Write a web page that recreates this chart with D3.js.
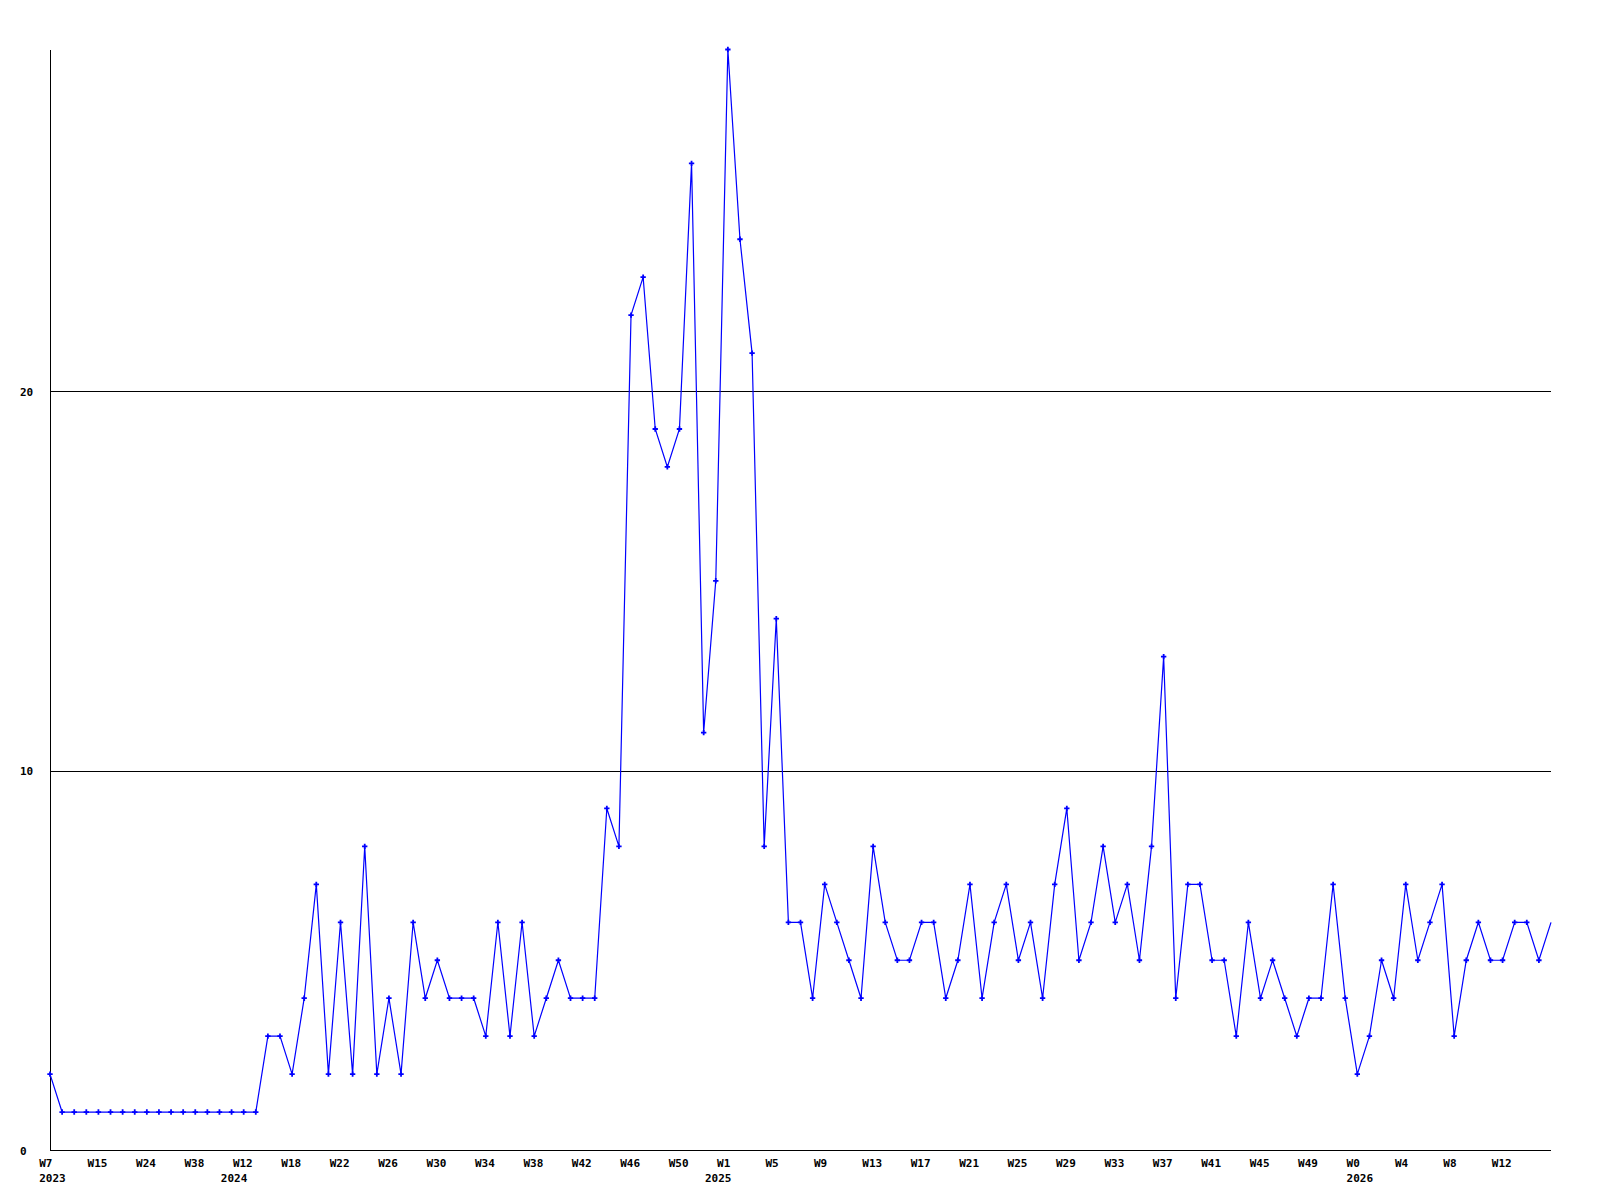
<!DOCTYPE html>
<html>
<head>
<meta charset="utf-8">
<script src="https://cdn.jsdelivr.net/npm/d3@7"></script>
<style>
body { margin: 0; background: #fff; }
text { font-family: "DejaVu Sans Mono", "Liberation Mono", monospace; font-size: 11px; font-weight: bold; fill: #000; }
</style>
</head>
<body>
<svg></svg>
<script>
var width = 1600, height = 1200;

// weekly counts, one per point
var values = [2, 1, 1, 1, 1, 1, 1, 1, 1, 1, 1, 1, 1, 1, 1, 1, 1, 1, 3, 3,
	2, 4, 7, 2, 6, 2, 8, 2, 4, 2, 6, 4, 5, 4, 4, 4, 3, 6, 3, 6,
	3, 4, 5, 4, 4, 4, 9, 8, 22, 23, 19, 18, 19, 26, 11, 15, 29, 24, 21, 8,
	14, 6, 6, 4, 7, 6, 5, 4, 8, 6, 5, 5, 6, 6, 4, 5, 7, 4, 6, 7,
	5, 6, 4, 7, 9, 5, 6, 8, 6, 7, 5, 8, 13, 4, 7, 7, 5, 5, 3, 6,
	4, 5, 4, 3, 4, 4, 7, 4, 2, 3, 5, 4, 7, 5, 6, 7, 3, 5, 6, 5,
	5, 6, 6, 5, 6];

// one week label on every 4th point
var weekLabels = ["W7", "W15", "W24", "W38", "W12", "W18", "W22", "W26", "W30", "W34",
	"W38", "W42", "W46", "W50", "W1", "W5", "W9", "W13", "W17", "W21",
	"W25", "W29", "W33", "W37", "W41", "W45", "W49", "W0", "W4", "W8", "W12"];
var labelEvery = 4;

var yearLabels = ["2023", "2024", "2025", "2026"];
var yearPoint = [0, 15, 55, 108];   // point where each year starts

var yTicks = [0, 10, 20];
var gridValues = [10, 20];

var svg = d3.select("svg")
	.attr("width", width)
	.attr("height", height);

svg.append("rect")
	.attr("width", width)
	.attr("height", height)
	.attr("fill", "#fff");

var x = d3.scaleLinear()
	.domain([0, values.length - 1])
	.range([50, 1551]);

var y = d3.scaleLinear()
	.domain([0, 29])
	.range([1150, 49.5]);

var labelShift = -10.8;

var grid = svg.append("g")
	.attr("shape-rendering", "crispEdges");

grid.selectAll("line")
	.data(gridValues)
	.enter()
	.append("line")
	.attr("x1", x(0))
	.attr("x2", x(values.length - 1))
	.attr("y1", function(d) { return Math.round(y(d)) + 0.5; })
	.attr("y2", function(d) { return Math.round(y(d)) + 0.5; })
	.attr("stroke", "#000");

// axes
grid.append("line")
	.attr("x1", x(0) + 0.5)
	.attr("x2", x(0) + 0.5)
	.attr("y1", y(29))
	.attr("y2", y(0))
	.attr("stroke", "#000");

grid.append("line")
	.attr("x1", x(0))
	.attr("x2", x(values.length - 1))
	.attr("y1", y(0) + 0.5)
	.attr("y2", y(0) + 0.5)
	.attr("stroke", "#000");

svg.append("g").selectAll("text")
	.data(yTicks)
	.enter()
	.append("text")
	.attr("x", 20)
	.attr("y", function(d) { return y(d) + 4.5; })
	.text(function(d) { return d; });

svg.append("g").selectAll("text")
	.data(weekLabels)
	.enter()
	.append("text")
	.attr("x", function(d, i) { return x(i * labelEvery) + labelShift; })
	.attr("y", 1166.5)
	.text(function(d) { return d; });

svg.append("g").selectAll("text")
	.data(yearLabels)
	.enter()
	.append("text")
	.attr("x", function(d, i) { return x(yearPoint[i]) + labelShift; })
	.attr("y", 1182)
	.text(function(d) { return d; });

var line = d3.line()
	.x(function(d, i) { return x(i); })
	.y(function(d) { return y(d); });

svg.append("path")
	.datum(values)
	.attr("d", line)
	.attr("fill", "none")
	.attr("stroke", "#0000ff")
	.attr("stroke-width", 1.2);

// markers on every point except the last one, which sits on the edge
svg.append("g").selectAll("path")
	.data(values.slice(0, -1))
	.enter()
	.append("path")
	.attr("d", d3.symbol().type(d3.symbolCross).size(16))
	.attr("transform", function(d, i) { return "translate(" + x(i) + "," + y(d) + ")"; })
	.attr("fill", "#0000ff");
</script>
</body>
</html>
